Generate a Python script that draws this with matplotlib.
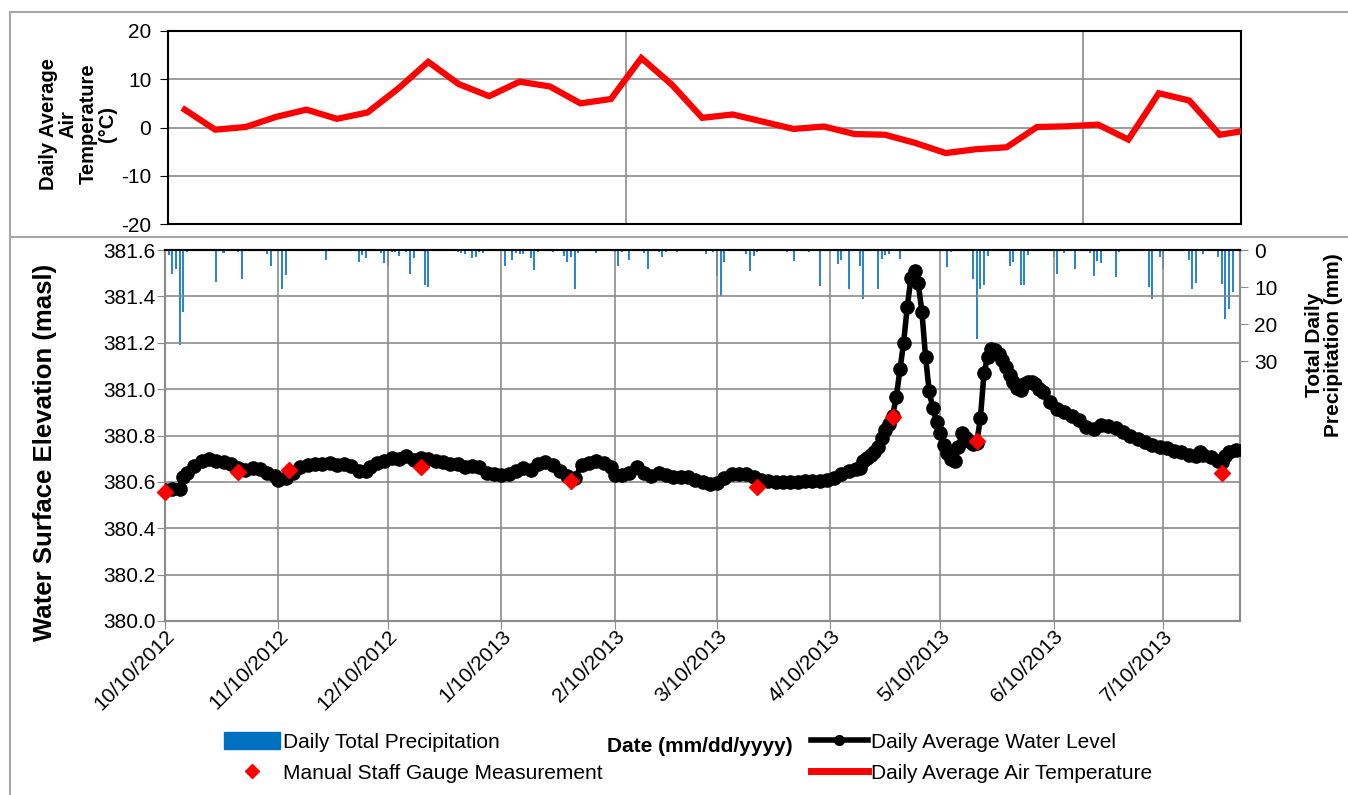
import numpy as np
import pandas as pd
import matplotlib
matplotlib.use('Agg')
import matplotlib.pyplot as plt
from matplotlib.lines import Line2D
from matplotlib.patches import Patch

# ---- data ----
start = pd.Timestamp('2012-10-10')
end = pd.Timestamp('2013-07-31')

tick_dates = ['2012-10-10', '2012-11-10', '2012-12-10', '2013-01-10', '2013-02-10',
              '2013-03-10', '2013-04-10', '2013-05-10', '2013-06-10', '2013-07-10']
tick_labels = ['10/10/2012', '11/10/2012', '12/10/2012', '1/10/2013', '2/10/2013',
               '3/10/2013', '4/10/2013', '5/10/2013', '6/10/2013', '7/10/2013']

# air temperature (category axis, one value per period)
air_temp = [3.7, -0.45, 0.1, 2.2, 3.7, 1.8, 3.1, 8.0, 13.6, 9.0, 6.5, 9.5, 8.5, 5.0, 5.9,
            14.4, 8.9, 2.0, 2.7, 1.2, -0.3, 0.2, -1.35, -1.5, -3.2, -5.3, -4.5, -4.1, 0.1,
            0.25, 0.6, -2.5, 7.1, 5.6, -1.5, -0.5]

# daily precipitation: day offset from 10/10/2012, mm
precip_day = [0, 1, 2, 3, 4, 5, 6, 14, 16, 20, 21, 28, 29, 32, 33, 44, 53, 54, 55, 56,
              59, 60, 61, 62, 63, 64, 66, 67, 68, 71, 72, 75, 76, 80, 81, 82, 84, 85, 86,
              87, 88, 93, 95, 96, 97, 98, 99, 100, 101, 102, 106, 109, 110, 111, 112, 113,
              118, 123, 124, 125, 127, 131, 132, 135, 136, 137, 140, 147, 148, 150, 151,
              152, 153, 155, 157, 159, 160, 161, 162, 170, 172, 176, 179, 184, 185, 187,
              190, 191, 195, 196, 197, 198, 201, 214, 215, 221, 222, 223, 224, 225, 231,
              232, 234, 235, 236, 243, 244, 246, 249, 253, 254, 255, 256, 260, 261, 269,
              270, 272, 273, 280, 281, 282, 284, 288, 289, 290, 291, 292, 294]
precip_mm = [2.4, 1.4, 6.6, 5.2, 25.5, 16.8, 0.6, 8.6, 0.9, 0.5, 7.7, 1.2, 4.3, 10.4, 6.8,
             2.8, 3.3, 1.4, 2.1, 0.3, 0.9, 3.4, 4.2, 0.5, 0.6, 1.6, 0.6, 6.6, 2.1, 9.5, 9.9,
             0.3, 0.3, 0.5, 0.9, 1.1, 2.1, 1.9, 0.6, 0.9, 0.3, 4.2, 2.7, 0.9, 1.2, 1.2, 0.3,
             2.1, 5.5, 0.5, 0.6, 1.6, 3.3, 1.9, 10.4, 0.9, 0.9, 0.6, 4.3, 0.5, 2.8, 0.9, 5.1,
             0.5, 2.0, 0.6, 0.6, 0.3, 1.2, 0.6, 6.9, 12.3, 3.3, 0.3, 0.3, 1.2, 5.7, 1.7, 0.5,
             0.6, 2.9, 0.6, 9.6, 3.8, 2.7, 10.6, 4.2, 13.3, 10.6, 2.4, 1.4, 1.2, 2.4, 4.5,
             0.5, 7.9, 24.1, 10.5, 9.3, 1.7, 4.2, 3.1, 9.3, 9.3, 1.4, 1.9, 6.6, 0.9, 5.1,
             0.9, 7.0, 2.9, 3.5, 7.4, 0.5, 9.9, 13.3, 1.9, 5.1, 2.7, 10.6, 8.8, 1.2, 1.9,
             9.1, 18.5, 15.8, 11.2, 7.4]

# daily average water level: day offset, masl
wl_day = [0, 2, 4, 5, 6, 8, 10, 12, 14, 16, 18, 20, 22, 24, 26, 28, 30, 31, 33, 35, 37,
          39, 41, 43, 45, 47, 49, 51, 53, 55, 56, 58, 60, 62, 64, 66, 68, 70, 72, 74, 76,
          78, 80, 82, 84, 86, 88, 90, 92, 94, 96, 98, 100, 102, 104, 106, 108, 110, 112,
          114, 116, 118, 120, 122, 123, 125, 127, 129, 131, 133, 135, 137, 139, 141, 143,
          145, 147, 149, 151, 153, 155, 157, 159, 161, 163, 165, 167, 169, 171, 173, 175,
          177, 179, 181, 183, 185, 187, 189, 190, 191, 192, 193, 194, 195, 196, 197, 198,
          199, 200, 201, 202, 203, 204, 205, 206, 207, 208, 209, 210, 211, 212, 213, 214,
          215, 216, 217, 218, 219, 220, 221, 222, 223, 224, 225, 226, 227, 228, 229, 230,
          231, 232, 233, 234, 235, 236, 237, 238, 239, 240, 242, 244, 246, 248, 250, 252,
          254, 256, 258, 260, 262, 264, 266, 268, 270, 272, 274, 276, 278, 280, 282, 283,
          284, 286, 288, 289, 290, 291, 293, 295]
wl_masl = [380.565, 380.57, 380.57, 380.62, 380.64, 380.67, 380.69, 380.697, 380.69,
           380.685, 380.675, 380.66, 380.65, 380.658, 380.655, 380.64, 380.625, 380.61,
           380.615, 380.64, 380.665, 380.673, 380.675, 380.675, 380.68, 380.672, 380.675,
           380.67, 380.648, 380.645, 380.665, 380.68, 380.69, 380.702, 380.70, 380.71,
           380.695, 380.705, 380.70, 380.69, 380.685, 380.675, 380.675, 380.665, 380.668,
           380.665, 380.64, 380.632, 380.63, 380.632, 380.645, 380.658, 380.652, 380.675,
           380.687, 380.672, 380.648, 380.625, 380.615, 380.672, 380.68, 380.69, 380.68,
           380.665, 380.63, 380.628, 380.64, 380.665, 380.64, 380.625, 380.638, 380.63,
           380.622, 380.622, 380.62, 380.61, 380.598, 380.592, 380.594, 380.615, 380.632,
           380.635, 380.632, 380.62, 380.61, 380.605, 380.60, 380.60, 380.598, 380.60,
           380.603, 380.605, 380.605, 380.608, 380.618, 380.632, 380.645, 380.655, 380.66,
           380.69, 380.705, 380.715, 380.73, 380.75, 380.79, 380.825, 380.85, 380.885,
           380.967, 381.085, 381.20, 381.355, 381.478, 381.51, 381.456, 381.334, 381.14,
           380.99, 380.917, 380.86, 380.81, 380.759, 380.723, 380.70, 380.691, 380.752,
           380.81, 380.79, 380.775, 380.765, 380.769, 380.874, 381.071, 381.14, 381.172,
           381.17, 381.15, 381.125, 381.095, 381.06, 381.03, 381.005, 380.996, 381.02,
           381.03, 381.03, 381.02, 381.00, 380.989, 380.945, 380.915, 380.90, 380.882,
           380.868, 380.835, 380.83, 380.845, 380.84, 380.831, 380.815, 380.80, 380.785,
           380.77, 380.76, 380.752, 380.745, 380.735, 380.728, 380.718, 380.711, 380.728,
           380.718, 380.708, 380.69, 380.685, 380.71, 380.73, 380.737, 380.737]

# manual staff gauge readings
gauge_day = [0, 20, 34, 70, 111, 162, 199, 222, 289]
gauge_masl = [380.558, 380.641, 380.651, 380.665, 380.604, 380.579, 380.881, 380.777, 380.64]

# ---- plotting ----
W, H = 1348, 795
plt.rcParams['font.family'] = ['Liberation Sans', 'DejaVu Sans']
plt.rcParams['axes.unicode_minus'] = False
grid_c = '#8C8C8C'
frame_c = '#A6A6A6'

fig = plt.figure(figsize=(W / 100, H / 100), dpi=100)

# outer frames
for xs, ys in [([10, W], [12, 12]), ([10, W], [237, 237]), ([10, 10], [12, H])]:
    fig.add_artist(Line2D([x / W for x in xs], [1 - y / H for y in ys],
                          transform=fig.transFigure, color=frame_c, lw=1.5))

# top panel: air temperature
ax_t = fig.add_axes([168 / W, 1 - 224 / H, 1073 / W, 193 / H])
idx = np.arange(len(air_temp))
ax_t.plot(idx, air_temp, color='#FF0000', lw=4.5, solid_joinstyle='miter', zorder=3)
ax_t.set_xlim(-0.55, 34.7)
ax_t.set_ylim(-20, 20)
ax_t.set_yticks([-20, -10, 0, 10, 20])
ax_t.set_xticks([14.5, 29.5])
ax_t.set_xticklabels([])
ax_t.tick_params(axis='x', length=0)
ax_t.tick_params(axis='y', direction='out', length=6, labelsize=15, colors='black', pad=6)
ax_t.grid(True, color=grid_c, lw=1.2)
for s in ax_t.spines.values():
    s.set_color('black')
    s.set_linewidth(1.5)
ax_t.set_axisbelow(True)
fig.text(78 / W, 1 - 124 / H, 'Daily Average\nAir\nTemperature\n(°C)', rotation=90,
         ha='center', va='center', fontsize=14.5, fontweight='bold', linespacing=1.05)

# bottom panel: water level + precipitation
ax_b = fig.add_axes([165 / W, 1 - 621 / H, 1075 / W, 371 / H])
ax_p = ax_b.twinx()
ax_b.set_zorder(ax_p.get_zorder() + 1)
ax_b.patch.set_visible(False)

p_dates = start + pd.to_timedelta(precip_day, unit='D')
ax_p.bar(p_dates, precip_mm, width=0.55, color='#2A86CF', align='center')
ax_p.set_ylim(100, 0)
ax_p.set_yticks([0, 10, 20, 30])
ax_p.tick_params(axis='y', direction='out', length=6, labelsize=15, color=grid_c, pad=4)

w_dates = start + pd.to_timedelta(wl_day, unit='D')
g_dates = start + pd.to_timedelta(gauge_day, unit='D')
ax_b.plot(w_dates, wl_masl, color='black', lw=4, marker='o', markersize=9.5, zorder=3)
ax_b.plot(g_dates, gauge_masl, linestyle='none', marker='D', markersize=8.5,
          color='#FF0000', zorder=4, clip_on=False)

ax_b.set_xlim(start, end)
ax_b.set_ylim(380.0, 381.6)
ax_b.set_yticks(np.arange(380.0, 381.61, 0.2))
ax_b.yaxis.set_major_formatter(matplotlib.ticker.FormatStrFormatter('%.1f'))
ax_b.set_xticks(pd.to_datetime(tick_dates))
ax_b.set_xticklabels(tick_labels, rotation=45, ha='right', rotation_mode='anchor')
ax_b.tick_params(axis='x', direction='out', length=6, labelsize=15, color=grid_c, pad=-2)
ax_b.tick_params(axis='y', direction='out', length=6, labelsize=15, color=grid_c, pad=1)
ax_b.grid(True, color=grid_c, lw=1.2)
ax_b.set_axisbelow(True)
for a in (ax_b, ax_p):
    for s in a.spines.values():
        s.set_color(grid_c)
        s.set_linewidth(1.5)
    a.spines['top'].set_color('black')

fig.text(45 / W, 1 - 452 / H, 'Water Surface Elevation (masl)', rotation=90,
         ha='center', va='center', fontsize=18.5, fontweight='bold')
fig.text(1324 / W, 1 - 345 / H, 'Total Daily\nPrecipitation (mm)', rotation=90,
         ha='center', va='center', fontsize=15, fontweight='bold', linespacing=1.0)
fig.text(700 / W, 1 - 747 / H, 'Date (mm/dd/yyyy)', ha='center', va='center',
         fontsize=15, fontweight='bold')

handles = [Patch(color='#0070C0'),
           Line2D([], [], ls='none', marker='D', color='#FF0000', markersize=7),
           Line2D([], [], color='black', lw=4, marker='o', markersize=7),
           Line2D([], [], color='#FF0000', lw=5)]
labels = ['Daily Total Precipitation', 'Manual Staff Gauge Measurement',
          'Daily Average Water Level', 'Daily Average Air Temperature']
fig.legend(handles, labels, ncol=2, loc='upper left', bbox_to_anchor=(224 / W, 1 - 732 / H),
           frameon=False, fontsize=15, handlelength=2.7, handletextpad=0.15,
           columnspacing=10.0, labelspacing=0.55, borderpad=0, borderaxespad=0,
           handleheight=0.9)

fig.savefig('out.png', dpi=100)
